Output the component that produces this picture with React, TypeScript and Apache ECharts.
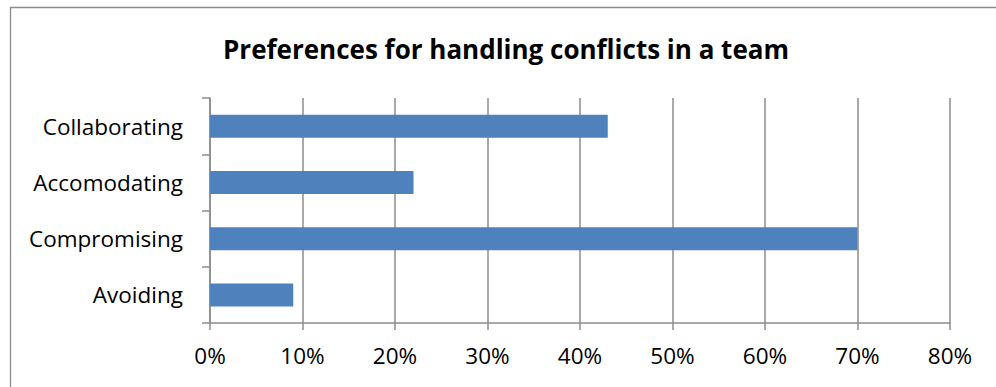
import React, { useEffect, useRef } from "react";
import * as echarts from "echarts";

const categories = ["Collaborating", "Accomodating", "Compromising", "Avoiding"];
const values = [43, 22, 70, 9];
const titleText = "Preferences for handling conflicts in a team";

const FONT = "Open Sans";

export default function App() {
  const ref = useRef<HTMLDivElement>(null);
  useEffect(() => {
    if (!ref.current) return;
    const chart = echarts.init(ref.current, null, { renderer: "svg" });
    chart.setOption({
      animation: false,
      backgroundColor: "#ffffff",
      textStyle: { fontFamily: FONT },
      graphic: [
        {
          type: "rect",
          shape: { x: 10.5, y: 7.5, width: 1000, height: 400 },
          style: { fill: "none", stroke: "#8c8c8c", lineWidth: 1.3 },
          silent: true,
        },
        {
          type: "text",
          x: 506,
          y: 62,
          style: {
            text: titleText,
            fontFamily: FONT,
            fontWeight: "bold",
            fontSize: 26,
            fill: "#000",
            textAlign: "center",
            textVerticalAlign: "bottom",
          },
        },
      ],
      grid: { left: 210, right: 46, top: 98, bottom: 64, containLabel: false },
      xAxis: {
        type: "value",
        min: 0,
        max: 80,
        interval: 10,
        axisLine: { show: true, lineStyle: { color: "#8c8c8c", width: 1.5 } },
        axisTick: { show: true, length: 7, lineStyle: { color: "#8c8c8c", width: 1.5 } },
        splitLine: { show: true, lineStyle: { color: "#8c8c8c", width: 1.5 } },
        axisLabel: {
          formatter: "{value}%",
          fontSize: 22.5,
          color: "#000",
          fontFamily: FONT,
          margin: 21,
        },
      },
      yAxis: {
        type: "category",
        inverse: true,
        data: categories,
        axisLine: { show: true, lineStyle: { color: "#8c8c8c", width: 1.5 } },
        axisTick: { show: true, length: 8, alignWithLabel: false, lineStyle: { color: "#8c8c8c", width: 1.5 } },
        axisLabel: { fontSize: 22.5, color: "#000", fontFamily: FONT, margin: 27 },
      },
      series: [
        {
          type: "bar",
          data: values,
          barWidth: 23,
          itemStyle: { color: "#4f81bd" },
        },
      ],
    });
    return () => chart.dispose();
  }, []);
  return (
    <div
      ref={ref}
      style={{ position: "absolute", left: 0, top: 0, width: 996, height: 387 }}
    />
  );
}
